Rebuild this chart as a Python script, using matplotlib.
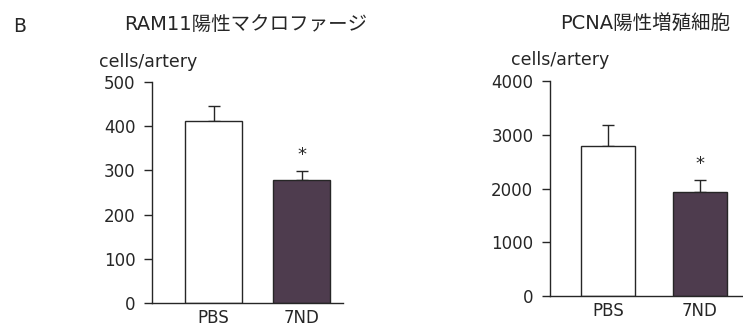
import matplotlib.pyplot as plt

plt.rcParams['font.family'] = ['DejaVu Sans', 'Noto Sans CJK JP']

groups = ["PBS", "7ND"]

# RAM11-positive macrophages
ram_mean = [412, 278]
ram_err = [34, 21]
ram_ticks = [0, 100, 200, 300, 400, 500]

# PCNA-positive proliferating cells
pcna_mean = [2790, 1930]
pcna_err = [390, 230]
pcna_ticks = [0, 1000, 2000, 3000, 4000]

bar_colors = ["white", "#4e3c4e"]
ink = "#262626"

fig = plt.figure(figsize=(7.43, 3.26), dpi=100)


def panel(rect, means, errs, ticks, xlim, width, title, title_xy, unit_xy):
    ax = fig.add_axes(rect)
    x = range(len(groups))
    ax.bar(x, means, width=width, color=bar_colors, edgecolor=ink, linewidth=1.0, zorder=2)
    ax.errorbar(x, means, yerr=[[0] * len(errs), errs], fmt="none", ecolor=ink,
                elinewidth=1.0, capsize=4, capthick=1.0, zorder=1)
    # significance mark above the treated group
    ax.text(1, means[1] + errs[1] + ticks[-1] * 0.072, "*", ha="center", va="center",
            fontsize=13, color=ink)
    ax.set_xlim(*xlim)
    ax.set_ylim(0, ticks[-1])
    ax.set_yticks(ticks)
    ax.set_xticks(list(x))
    ax.set_xticklabels(groups)
    for side in ("top", "right"):
        ax.spines[side].set_visible(False)
    for side in ("left", "bottom"):
        ax.spines[side].set_linewidth(1.0)
        ax.spines[side].set_color(ink)
    ax.tick_params(axis="y", direction="out", length=6, width=1.0, pad=6,
                   labelsize=12, colors=ink)
    ax.tick_params(axis="x", length=0, pad=4, labelsize=12, colors=ink)
    fig.text(title_xy[0], title_xy[1], title, ha="left", va="center", fontsize=14,
             color=ink, family=["DejaVu Sans", "Noto Sans CJK JP"])
    fig.text(unit_xy[0], unit_xy[1], "cells/artery", ha="left", va="center",
             fontsize=12.5, color=ink)
    return ax


panel([152 / 743, 23 / 326, 191 / 743, 221 / 326], ram_mean, ram_err, ram_ticks,
      (-0.70, 1.47), 0.64, "RAM11陽性マクロファージ", (124 / 743, 1 - 25 / 326),
      (99 / 743, 1 - 62 / 326))
panel([550 / 743, 30 / 326, 193 / 743, 215 / 326], pcna_mean, pcna_err, pcna_ticks,
      (-0.63, 1.47), 0.59, "PCNA陽性増殖細胞", (560 / 743, 1 - 23 / 326),
      (511 / 743, 1 - 60 / 326))

fig.text(13 / 743, 1 - 27 / 326, "B", ha="left", va="center", fontsize=13.5, color=ink)

fig.savefig("out.png", dpi=100)
